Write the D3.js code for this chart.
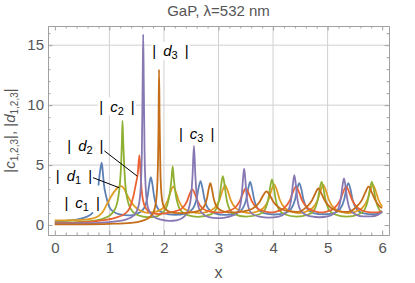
<!DOCTYPE html>
<html>
<head>
<meta charset="utf-8">
<script src="https://cdn.jsdelivr.net/npm/d3@7"></script>
<style>
  body { margin: 0; background: #fff; }
  text { font-family: "Liberation Sans", Arial, sans-serif; }
</style>
</head>
<body>
<div id="chart"></div>
<script>
// values, [x, |amplitude|]; null = break in the curve
const c1 = [[0,0.3],[0.2,0.35],[0.4,0.45],[0.5,0.55],[0.6,0.72],[0.66,0.88],[0.7,1.05],null,
  [0.8,3.3],[0.83,4.5],[0.86,5.2],[0.88,4.4],[0.9,3.4],[0.94,2.4],[1.0,1.5],[1.08,1.1],[1.2,0.88],[1.35,0.8],[1.45,0.85],
  [1.55,1.04],[1.64,1.44],[1.70,2.4],[1.73,3.36],[1.76,4.0],[1.79,3.36],[1.82,2.4],[1.88,1.44],[1.97,1.04],[2.2,0.85],
  [2.42,1.0],[2.53,1.37],[2.60,2.24],[2.635,3.1],[2.67,3.67],[2.705,3.1],[2.74,2.24],[2.81,1.37],[2.92,1.0],[3.12,0.85],
  [3.33,1.0],[3.44,1.36],[3.51,2.2],[3.545,3.04],[3.58,3.6],[3.615,3.04],[3.65,2.2],[3.72,1.36],[3.83,1.0],[4.03,0.88],
  [4.22,1.0],[4.33,1.35],[4.405,2.15],[4.44,2.96],[4.48,3.5],[4.52,2.96],[4.555,2.15],[4.63,1.35],[4.74,1.0],[4.93,0.9],
  [5.12,1.0],[5.23,1.35],[5.305,2.15],[5.34,2.96],[5.38,3.5],[5.42,2.96],[5.455,2.15],[5.53,1.35],[5.64,1.0],[5.85,0.9],[6.0,1.15]];

const d1 = [[0,0.38],[0.3,0.4],[0.55,0.45],[0.7,0.55],[0.8,0.75],[0.88,1.1],[0.95,1.7],[1.02,2.3],[1.1,2.85],[1.16,3.15],[1.21,3.25],[1.26,3.1],[1.32,2.55],[1.4,1.9],[1.5,1.4],[1.62,1.1],[1.72,1.02],
  [1.82,1.07],[1.97,1.36],[2.07,2.05],[2.12,2.74],[2.17,3.2],[2.22,2.74],[2.27,2.05],[2.37,1.36],[2.52,1.07],[2.65,1.0],
  [2.77,1.08],[2.92,1.39],[3.02,2.12],[3.07,2.84],[3.12,3.33],[3.17,2.84],[3.22,2.12],[3.32,1.39],[3.47,1.08],[3.57,1.0],
  [3.67,1.08],[3.82,1.4],[3.92,2.15],[3.97,2.9],[4.02,3.4],[4.07,2.9],[4.12,2.15],[4.22,1.4],[4.37,1.08],[4.47,1.0],
  [4.57,1.08],[4.72,1.4],[4.82,2.13],[4.87,2.86],[4.92,3.35],[4.97,2.86],[5.02,2.13],[5.12,1.4],[5.27,1.08],[5.38,1.0],
  [5.48,1.08],[5.63,1.4],[5.73,2.13],[5.78,2.86],[5.83,3.35],[5.88,2.86],[5.93,2.13],[6.0,1.55]];

const c2 = [[0,0.2],[0.4,0.25],[0.7,0.35],[0.9,0.55],[1.02,0.85],[1.1,1.3],[1.15,2.0],[1.19,3.3],[1.215,5.0],[1.23,7.0],[1.24,8.7],[1.255,6.8],[1.275,4.6],[1.30,3.0],[1.35,1.8],[1.43,1.1],[1.55,0.78],[1.72,0.65],
  [1.88,0.75],[1.98,1.05],[2.06,1.65],[2.11,2.7],[2.14,3.9],[2.16,4.9],[2.18,3.9],[2.21,2.7],[2.26,1.65],[2.34,1.05],[2.45,0.8],[2.62,0.68],
  [2.87,0.91],[2.96,1.34],[3.02,2.37],[3.05,3.39],[3.08,4.08],[3.11,3.39],[3.14,2.37],[3.20,1.34],[3.29,0.91],[3.5,0.7],
  [3.75,0.9],[3.85,1.28],[3.915,2.22],[3.9475,3.17],[3.98,3.8],[4.0125,3.17],[4.045,2.22],[4.11,1.28],[4.21,0.9],[4.43,0.7],
  [4.645,0.88],[4.75,1.24],[4.82,2.12],[4.855,3.0],[4.89,3.6],[4.925,3.0],[4.96,2.12],[5.03,1.24],[5.135,0.88],[5.35,0.7],
  [5.565,0.88],[5.67,1.24],[5.74,2.12],[5.775,3.0],[5.81,3.6],[5.845,3.0],[5.88,2.12],[5.95,1.24],[6.0,1.0]];

const d2 = [[0,0.15],[0.4,0.2],[0.8,0.35],[1.1,0.6],[1.3,1.0],[1.38,1.5],[1.44,2.4],[1.48,3.3],[1.52,4.3],[1.55,5.83],[1.57,4.5],[1.59,3.0],[1.62,2.0],[1.67,1.4],[1.75,1.05],[1.9,0.92],[2.05,1.0],
  [2.17,1.1],[2.32,1.35],[2.42,1.96],[2.47,2.57],[2.52,2.97],[2.57,2.57],[2.62,1.96],[2.72,1.35],[2.87,1.1],[3.0,1.05],
  [3.12,1.1],[3.28,1.37],[3.39,2.0],[3.445,2.63],[3.5,3.05],[3.555,2.63],[3.61,2.0],[3.72,1.37],[3.88,1.1],[3.97,1.05],
  [4.05,1.1],[4.2,1.4],[4.31,2.07],[4.365,2.75],[4.42,3.2],[4.475,2.75],[4.53,2.07],[4.64,1.4],[4.8,1.1],[4.88,1.05],
  [4.97,1.1],[5.12,1.4],[5.23,2.07],[5.285,2.75],[5.34,3.2],[5.395,2.75],[5.45,2.07],[5.56,1.4],[5.72,1.1],[5.85,1.05],[6.0,1.15]];

const c3 = [[0,0.12],[0.5,0.15],[1.0,0.25],[1.3,0.45],[1.45,0.8],[1.53,1.5],[1.57,2.8],[1.595,6.0],[1.61,12.0],[1.62,15.9],[1.63,12.0],[1.645,6.0],[1.67,2.8],[1.71,1.4],[1.8,0.75],[1.95,0.45],[2.1,0.35],[2.25,0.42],
  [2.38,0.75],[2.45,1.3],[2.5,2.5],[2.525,4.2],[2.55,6.6],[2.575,4.2],[2.6,2.5],[2.65,1.3],[2.75,0.8],[2.9,0.6],[3.05,0.58],
  [3.2,0.7],[3.33,0.95],[3.39,1.46],[3.43,2.7],[3.45,3.9],[3.47,4.7],[3.49,3.9],[3.51,2.7],[3.55,1.46],[3.61,0.95],[3.75,0.7],[3.93,0.62],
  [4.1,0.7],[4.215,0.95],[4.29,1.35],[4.34,2.4],[4.365,3.47],[4.39,4.17],[4.415,3.47],[4.44,2.4],[4.49,1.35],[4.565,0.95],[4.7,0.72],[4.85,0.65],
  [5.0,0.72],[5.11,0.95],[5.19,1.3],[5.245,2.3],[5.2725,3.25],[5.30,3.9],[5.3275,3.25],[5.355,2.3],[5.41,1.3],[5.49,0.95],[5.65,0.72],[5.8,0.72],[5.92,0.85],[6.0,1.1]];

const d3s = [[0,0.05],[0.5,0.06],[1.0,0.1],[1.4,0.18],[1.6,0.35],[1.72,0.6],[1.8,1.0],[1.85,1.8],[1.88,3.5],[1.9,8.0],[1.91,12.97],[1.92,9.0],[1.935,4.5],[1.96,2.3],[2.0,1.5],[2.1,1.1],[2.25,1.0],[2.4,1.02],
  [2.5,1.05],[2.64,1.19],[2.73,1.5],[2.79,2.25],[2.82,3.0],[2.85,3.5],[2.88,3.0],[2.91,2.25],[2.97,1.5],[3.06,1.19],[3.2,1.05],
  [3.4,1.1],[3.62,1.36],[3.75,1.9],[3.815,2.44],[3.88,2.8],[3.945,2.44],[4.01,1.9],[4.14,1.36],[4.3,1.15],
  [4.45,1.1],[4.59,1.41],[4.71,2.03],[4.77,2.59],[4.83,3.05],[4.89,2.59],[4.95,2.03],[5.07,1.41],[5.25,1.12],
  [5.37,1.1],[5.51,1.44],[5.63,2.1],[5.69,2.7],[5.75,3.2],[5.81,2.7],[5.87,2.1],[5.99,1.44],[6.0,1.42]];

const seriesData = [c1, d1, c2, d2, c3, d3s];
const seriesColors = ["#5e81b5", "#e19c24", "#8fb032", "#eb6235", "#8778b3", "#c56e1a"];

const xTicks = [0, 1, 2, 3, 4, 5, 6];
const yTicks = [0, 5, 10, 15];
const xGrid = [1, 2, 3, 4, 5];
const yGrid = [5, 10, 15];

// annotation labels: letter, subscript, position (data units)
const labels = [
  {t: "c", s: "1", x: 0.50, y: 1.85},
  {t: "d", s: "1", x: 0.35, y: 4.15},
  {t: "d", s: "2", x: 0.56, y: 6.6},
  {t: "c", s: "2", x: 1.14, y: 9.9},
  {t: "d", s: "3", x: 2.12, y: 14.5},
  {t: "c", s: "3", x: 2.60, y: 7.6}
];
// leader lines for d1, d2
const leaders = [
  [[0.69, 3.97], [1.18, 3.11]],
  [[0.89, 6.25], [1.51, 4.08]]
];

const W = 415, H = 283;
const m = {left: 48, right: 389, top: 26, bottom: 235};

const svg = d3.select("#chart").append("svg")
  .attr("width", W).attr("height", H);

const x = d3.scaleLinear().domain([-0.125, 6.125]).range([m.left, m.right]);
const y = d3.scaleLinear().domain([-0.83, 16.6]).range([m.bottom, m.top]);

const gray = "#a0a0a0", labelGray = "#555";

// grid lines
svg.append("g").selectAll("line").data(xGrid).enter().append("line")
  .attr("x1", d => x(d)).attr("x2", d => x(d))
  .attr("y1", m.top).attr("y2", m.bottom)
  .attr("stroke", "#d0d0d0").attr("stroke-width", 1);
svg.append("g").selectAll("line").data(yGrid).enter().append("line")
  .attr("y1", d => y(d)).attr("y2", d => y(d))
  .attr("x1", m.left).attr("x2", m.right)
  .attr("stroke", "#d0d0d0").attr("stroke-width", 1);

// curves
svg.append("clipPath").attr("id", "clip").append("rect")
  .attr("x", m.left).attr("y", m.top).attr("width", m.right - m.left).attr("height", m.bottom - m.top);

const line = d3.line()
  .defined(d => d !== null)
  .x(d => x(d[0])).y(d => y(d[1]))
  .curve(d3.curveMonotoneX);

svg.append("g").attr("clip-path", "url(#clip)")
  .selectAll("path").data(seriesData).enter().append("path")
  .attr("d", line)
  .attr("fill", "none")
  .attr("stroke", (d, i) => seriesColors[i])
  .attr("stroke-width", 1.8)
  .attr("stroke-linejoin", "round");

// frame + ticks (inward)
function styleAxis(g) {
  g.select(".domain").attr("stroke", gray);
  g.selectAll(".tick line").attr("stroke", gray);
  g.selectAll("text").attr("fill", labelGray).style("font-size", "15px")
    .style("font-family", "'Liberation Sans', Arial, sans-serif");
}
const minorX = d3.range(0, 6.01, 0.2).map(v => +v.toFixed(1)).filter(v => !xTicks.includes(v));
const minorY = d3.range(0, 16.01, 1).filter(v => !yTicks.includes(v));

svg.append("g").attr("transform", `translate(0,${m.bottom})`)
  .call(d3.axisBottom(x).tickValues(xTicks).tickFormat(d3.format("d")).tickSize(-4.5).tickSizeOuter(0).tickPadding(7))
  .call(styleAxis);
svg.append("g").attr("transform", `translate(0,${m.bottom})`)
  .call(d3.axisBottom(x).tickValues(minorX).tickSize(-2.5).tickSizeOuter(0).tickFormat(""))
  .call(styleAxis);
svg.append("g").attr("transform", `translate(0,${m.top})`)
  .call(d3.axisTop(x).tickValues(xTicks).tickSize(-4.5).tickSizeOuter(0).tickFormat(""))
  .call(styleAxis);
svg.append("g").attr("transform", `translate(0,${m.top})`)
  .call(d3.axisTop(x).tickValues(minorX).tickSize(-2.5).tickSizeOuter(0).tickFormat(""))
  .call(styleAxis);

svg.append("g").attr("transform", `translate(${m.left},0)`)
  .call(d3.axisLeft(y).tickValues(yTicks).tickFormat(d3.format("d")).tickSize(-4.5).tickSizeOuter(0).tickPadding(4))
  .call(styleAxis);
svg.append("g").attr("transform", `translate(${m.left},0)`)
  .call(d3.axisLeft(y).tickValues(minorY).tickSize(-2.5).tickSizeOuter(0).tickFormat(""))
  .call(styleAxis);
svg.append("g").attr("transform", `translate(${m.right},0)`)
  .call(d3.axisRight(y).tickValues(yTicks).tickSize(-4.5).tickSizeOuter(0).tickFormat(""))
  .call(styleAxis);
svg.append("g").attr("transform", `translate(${m.right},0)`)
  .call(d3.axisRight(y).tickValues(minorY).tickSize(-2.5).tickSizeOuter(0).tickFormat(""))
  .call(styleAxis);

// leader lines
svg.append("g").selectAll("line").data(leaders).enter().append("line")
  .attr("x1", d => x(d[0][0])).attr("y1", d => y(d[0][1]))
  .attr("x2", d => x(d[1][0])).attr("y2", d => y(d[1][1]))
  .attr("stroke", "#000").attr("stroke-width", 1);

// labels "|  c1  |" with white background
const lab = svg.append("g").selectAll("g").data(labels).enter().append("g")
  .attr("transform", d => `translate(${x(d.x)},${y(d.y)})`);
lab.append("rect")
  .attr("x", -19).attr("y", -9).attr("width", 38).attr("height", 18)
  .attr("fill", "#fff");
const lt = lab.append("text")
  .attr("text-anchor", "middle").attr("dy", "0.35em")
  .style("font-size", "15px").attr("fill", "#000");
lt.append("tspan").text("|").attr("dx", 0);
lt.append("tspan").text(d => d.t).style("font-style", "italic").attr("dx", 7);
lt.append("tspan").text(d => d.s).style("font-size", "11px").attr("dy", 3);
lt.append("tspan").text("|").attr("dy", -3).attr("dx", 7);

// title
svg.append("text")
  .attr("x", (m.left + m.right) / 2).attr("y", 16)
  .attr("text-anchor", "middle")
  .attr("fill", labelGray)
  .style("font-size", "15px")
  .text("GaP, λ=532 nm");

// x label
svg.append("text")
  .attr("x", (m.left + m.right) / 2).attr("y", 278)
  .attr("text-anchor", "middle")
  .attr("fill", labelGray)
  .style("font-size", "16px")
  .text("x");

// y label
const yl = svg.append("text")
  .attr("transform", `translate(15,${(m.top + m.bottom) / 2}) rotate(-90)`)
  .attr("text-anchor", "middle")
  .attr("fill", labelGray)
  .style("font-size", "15px");
yl.append("tspan").text("|");
yl.append("tspan").text("c").style("font-style", "italic");
yl.append("tspan").text("1,2,3").style("font-size", "10px").attr("dy", 3);
yl.append("tspan").text("|, |").attr("dy", -3);
yl.append("tspan").text("d").style("font-style", "italic");
yl.append("tspan").text("1,2,3").style("font-size", "10px").attr("dy", 3);
yl.append("tspan").text("|").attr("dy", -3);
</script>
</body>
</html>
